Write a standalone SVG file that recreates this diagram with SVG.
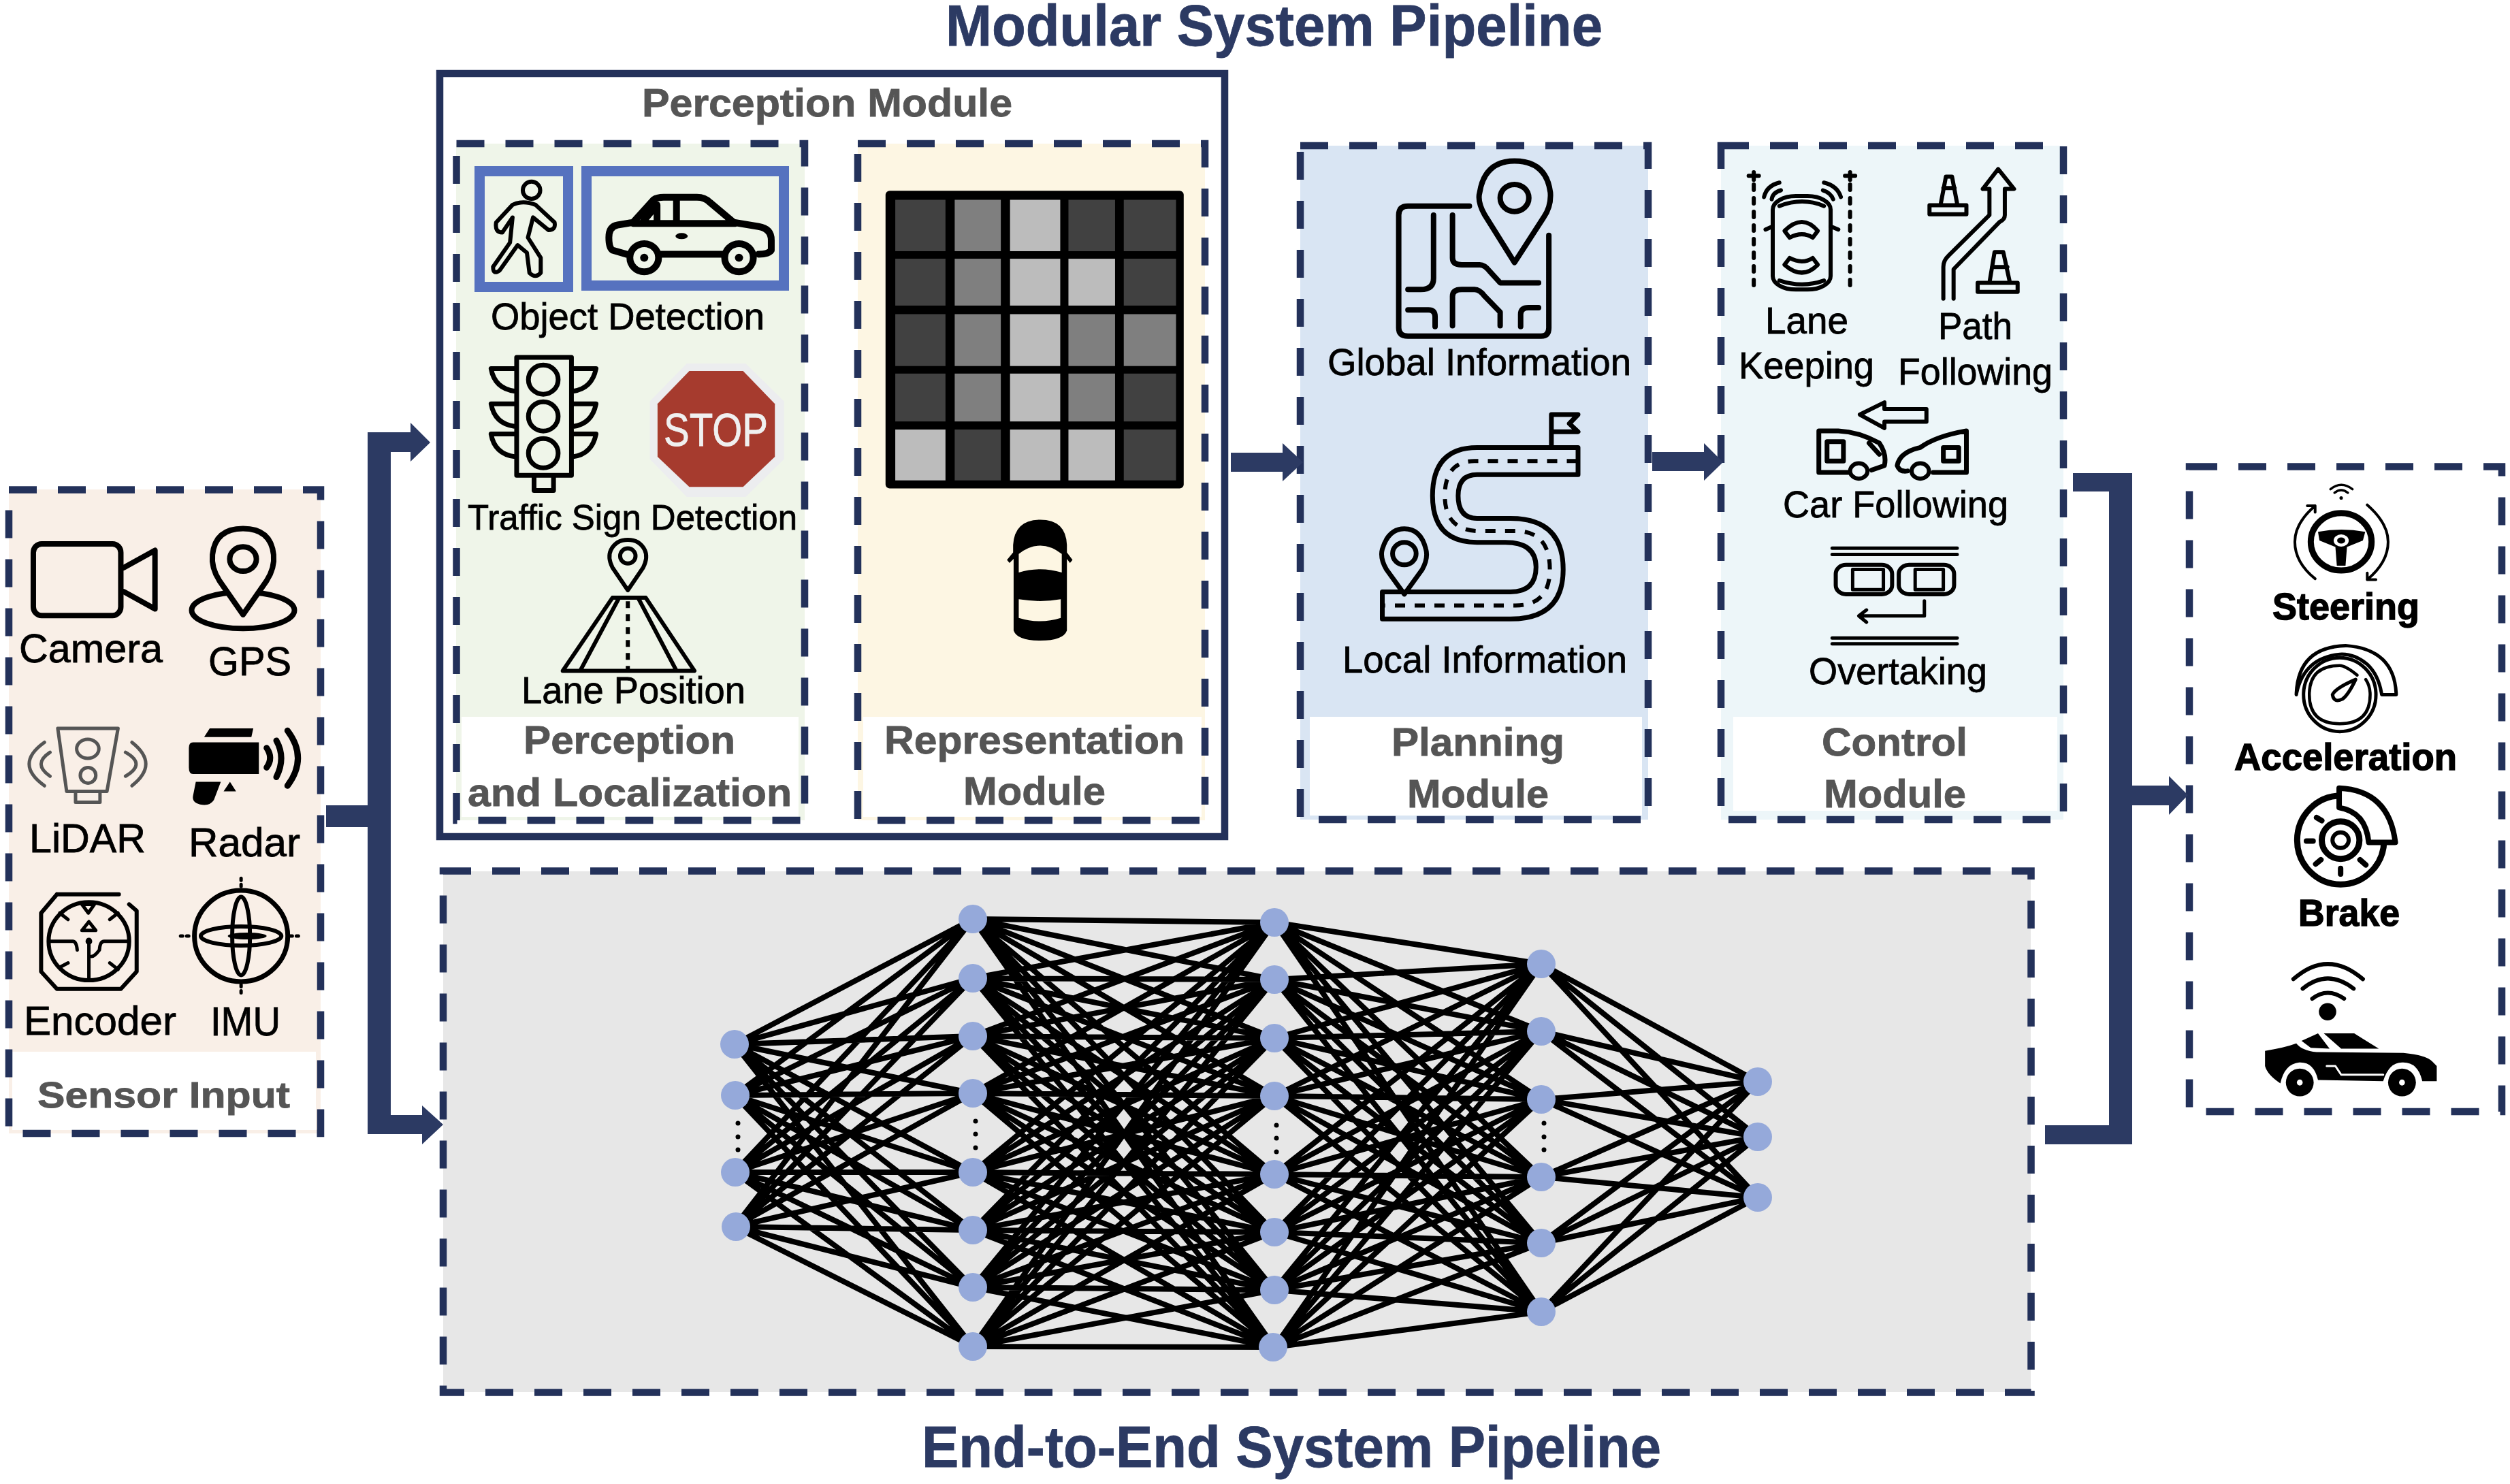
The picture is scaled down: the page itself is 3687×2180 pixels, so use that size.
<svg xmlns="http://www.w3.org/2000/svg" width="3687" height="2180" viewBox="0 0 3687 2180">
<style>
text{font-family:"Liberation Sans",Arial,sans-serif;fill:#000;stroke:#000;stroke-width:.8;font-size:56px}
.h{font-weight:700;fill:#2c3a63;stroke:#2c3a63;font-size:85px}
.l{font-weight:700;fill:#555;stroke:#555;font-size:57px}
.o{font-weight:700;font-size:55px;stroke-width:1.4}
.d{fill:none;stroke:#23315a;stroke-width:10.5;stroke-dasharray:41 31}
.i{fill:none;stroke:#000;stroke-width:8;stroke-linecap:round;stroke-linejoin:round}
.i *{vector-effect:non-scaling-stroke}
.k{fill:#000;stroke:none}
.w{fill:#fff;stroke:none}
.n{fill:#95a9da}
.c{fill:#2c3a63}
.D{fill:#414141}.M{fill:#7f7f7f}.L{fill:#bcbcbc}
.net{fill:none;stroke:#000;stroke-width:8}
</style>
<rect width="3687" height="2180" fill="#fff"/>
<text class="h" x="1389" y="67" textLength="965" lengthAdjust="spacingAndGlyphs">Modular System Pipeline</text>
<text class="h" x="1354" y="2155" textLength="1086" lengthAdjust="spacingAndGlyphs">End-to-End System Pipeline</text>

<g id="sensor-input">
<rect x="13" y="719" width="458" height="946" fill="#f9efe7"/>
<rect x="18" y="1545" width="446" height="115" fill="#fff"/>
<g class="i" transform="translate(0,700) scale(.408,.638)">
<rect x="120" y="155" width="315" height="165" rx="30" ry="20"/>
<path d="M445,210L558,170V305L445,265"/>
<ellipse cx="875" cy="308" rx="185" ry="42"/>
<path d="M875,318L790,240Q760,210 765,180Q775,120 875,120Q975,120 985,180Q990,210 960,240Z" fill="#f9efe7"/>
<ellipse cx="875" cy="190" rx="48" ry="28"/>
<path style="stroke:#555;stroke-width:5" d="M208,580H425L385,725H240ZM272,725V750H360V725"/>
<ellipse style="stroke:#555;stroke-width:5" cx="316" cy="627" rx="40" ry="22"/>
<ellipse style="stroke:#555;stroke-width:5" cx="317" cy="688" rx="28" ry="18"/>
<path style="stroke:#555;stroke-width:5" d="M180,635Q116,662 180,690M160,612Q50,662 160,712M452,635Q528,662 452,690M475,612Q575,662 475,712"/>
<path class="k" d="M735,600L755,580H912L905,600ZM680,625Q680,612 695,612H932V685H695Q680,685 680,670ZM705,703H795L770,745Q755,760 720,755Q690,750 695,735ZM805,725L828,703L850,725Z"/>
<path style="stroke-width:9" d="M960,625Q985,648 960,670M995,608Q1030,648 995,692M1035,585Q1110,648 1035,712"/>
<path style="stroke-width:6" d="M205,962H428M465,985L492,1000V1140L435,1180H205L148,1140V1005L205,962"/>
<ellipse style="stroke-width:6" cx="320" cy="1070" rx="145" ry="90"/>
<path style="stroke-width:5" d="M295,985H340L318,1005ZM295,1045L320,1025L345,1045ZM215,1005L245,1020M425,1005L395,1020M215,1130L245,1120M425,1135L395,1120M178,1070H262Q275,1070 278,1090M460,1070H375Q360,1070 358,1090Q340,1105 330,1105M320,1070V1160"/>
<ellipse class="k" cx="320" cy="1070" rx="12" ry="8"/>
<ellipse style="stroke-width:7" cx="868" cy="1058" rx="168" ry="105"/>
<ellipse style="stroke-width:6" cx="868" cy="1058" rx="32" ry="90"/>
<ellipse style="stroke-width:6" cx="868" cy="1058" rx="145" ry="22"/>
<ellipse class="k" cx="890" cy="1058" rx="70" ry="8"/>
<path style="stroke-width:5" d="M868,925V948M868,1170V1195M650,1058H690M1045,1058H1085" stroke-dasharray="3 6"/>
</g>
<text x="28" y="973" style="font-size:59px" textLength="211" lengthAdjust="spacingAndGlyphs">Camera</text>
<text x="306" y="992" style="font-size:59px" textLength="122" lengthAdjust="spacingAndGlyphs">GPS</text>
<text x="43" y="1252" style="font-size:59px" textLength="171" lengthAdjust="spacingAndGlyphs">LiDAR</text>
<text x="277" y="1258" style="font-size:59px" textLength="164" lengthAdjust="spacingAndGlyphs">Radar</text>
<text x="35" y="1520" style="font-size:59px" textLength="224" lengthAdjust="spacingAndGlyphs">Encoder</text>
<text x="309" y="1521" style="font-size:59px" textLength="103" lengthAdjust="spacingAndGlyphs">IMU</text>
<text class="l" x="55" y="1627" style="font-size:54px" textLength="371" lengthAdjust="spacingAndGlyphs">Sensor Input</text>
<rect class="d" x="13" y="719.5" width="458" height="945.5"/>
</g>

<g id="perception-module">
<rect x="646" y="108" width="1153" height="1121" fill="#fff" stroke="#23315a" stroke-width="10.5"/>
<text class="l" x="943" y="171" textLength="544" lengthAdjust="spacingAndGlyphs">Perception Module</text>
</g>

<g id="perception-localization">
<rect x="670" y="211" width="512" height="994" fill="#eff5e9"/>
<rect x="678" y="1053" width="495" height="147" fill="#fff"/>
<rect x="704.5" y="251.5" width="130" height="170" fill="none" stroke="#5672bf" stroke-width="15"/>
<rect x="861.5" y="251.5" width="290" height="168" fill="none" stroke="#5672bf" stroke-width="15"/>
<g class="i" transform="translate(640,90) scale(.7526,.74)">
<circle cx="187" cy="256" r="17" style="stroke-width:6"/>
<path style="stroke-width:6" d="M150,285Q170,275 195,285L232,320Q235,335 220,335L190,310L180,350L205,390V420Q195,432 183,420L178,380L160,365L125,415Q112,425 112,408L145,360L150,310L130,340Q115,340 118,320Z"/>
<path style="stroke-width:10" d="M372,383L345,375Q338,370 338,350Q338,328 355,325L385,320L425,275Q432,270 445,270H510Q525,270 535,280L582,320L630,328Q655,332 655,355V375Q650,383 630,383M440,383H560M385,322H585M405,318L432,285V318M470,275V322"/>
<ellipse class="k" cx="480" cy="347" rx="12" ry="6"/>
<circle cx="407" cy="390" r="28" style="stroke-width:10"/><circle cx="592" cy="390" r="28" style="stroke-width:10"/>
<circle class="k" cx="407" cy="390" r="8"/><circle class="k" cx="592" cy="390" r="8"/>
<path style="stroke-width:7" d="M158,588H265V822H158ZM192,822V852H230V822M155,610H108Q115,650 155,655M155,680H108Q115,720 155,725M155,740H108Q115,780 155,785M268,610H313Q305,650 268,655M268,680H313Q305,720 268,725M268,740H313Q305,780 268,785"/>
<circle cx="210" cy="632" r="29" style="stroke-width:7"/><circle cx="210" cy="705" r="29" style="stroke-width:7"/><circle cx="210" cy="778" r="29" style="stroke-width:7"/>
<path style="stroke:none;fill:#ecedef" d="M490,600H605L680,675V790L605,865H490L418,790V675Z"/>
<path style="stroke:none;fill:#a63b2e" d="M495,615H600L662,680V785L600,845H495L433,785V680Z"/>
<path style="stroke-width:6" d="M375,1050L345,1005Q335,985 342,970Q352,950 375,950Q398,950 408,970Q415,985 405,1005Z"/>
<circle cx="375" cy="982" r="15" style="stroke-width:6"/>
<path style="stroke-width:6" d="M248,1210L345,1065H410L505,1210ZM282,1210L358,1065M470,1210L395,1065"/>
<path style="stroke-width:6" d="M375,1072V1210" stroke-dasharray="10 9" stroke-linecap="butt"/>
</g>
<text x="975" y="655" style="font-size:68px;fill:#f0f0f0;stroke:#f0f0f0" textLength="153" lengthAdjust="spacingAndGlyphs">STOP</text>
<text x="721" y="484" textLength="402" lengthAdjust="spacingAndGlyphs">Object Detection</text>
<text x="687" y="778" style="font-size:52px" textLength="484" lengthAdjust="spacingAndGlyphs">Traffic Sign Detection</text>
<text x="766" y="1033" textLength="329" lengthAdjust="spacingAndGlyphs">Lane Position</text>
<text class="l" x="769" y="1107" textLength="311" lengthAdjust="spacingAndGlyphs">Perception</text>
<text class="l" x="687" y="1184" textLength="476" lengthAdjust="spacingAndGlyphs">and Localization</text>
<rect class="d" x="670.5" y="211" width="511.5" height="994"/>
</g>

<g id="representation-module">
<rect x="1260" y="211" width="510" height="994" fill="#fdf6e3"/>
<rect x="1268" y="1053" width="497" height="147" fill="#fff"/>
<g transform="translate(640,90) scale(.7526,.74)">
<rect x="878" y="257" width="582" height="591" rx="8" fill="#000"/>
<rect class="D" x="897" y="275" width="98" height="102"/><rect class="M" x="1013" y="275" width="90" height="102"/><rect class="L" x="1121" y="275" width="98" height="102"/><rect class="D" x="1235" y="275" width="91" height="102"/><rect class="D" x="1343" y="275" width="102" height="102"/>
<rect class="D" x="897" y="392" width="98" height="93"/><rect class="M" x="1013" y="392" width="90" height="93"/><rect class="L" x="1121" y="392" width="98" height="93"/><rect class="L" x="1235" y="392" width="91" height="93"/><rect class="D" x="1343" y="392" width="102" height="93"/>
<rect class="D" x="897" y="502" width="98" height="103"/><rect class="M" x="1013" y="502" width="90" height="103"/><rect class="L" x="1121" y="502" width="98" height="103"/><rect class="M" x="1235" y="502" width="91" height="103"/><rect class="M" x="1343" y="502" width="102" height="103"/>
<rect class="D" x="897" y="620" width="98" height="95"/><rect class="M" x="1013" y="620" width="90" height="95"/><rect class="L" x="1121" y="620" width="98" height="95"/><rect class="M" x="1235" y="620" width="91" height="95"/><rect class="D" x="1343" y="620" width="102" height="95"/>
<rect class="L" x="897" y="731" width="98" height="101"/><rect class="D" x="1013" y="731" width="90" height="101"/><rect class="L" x="1121" y="731" width="98" height="101"/><rect class="L" x="1235" y="731" width="91" height="101"/><rect class="D" x="1343" y="731" width="102" height="101"/>
<path class="k" d="M1127,960Q1130,910 1180,910Q1230,910 1232,960V975L1243,990L1238,996L1232,988V1130Q1225,1150 1180,1150Q1135,1150 1128,1130V988L1120,996L1115,990L1127,975Z"/>
<path style="fill:#fdf6e3" d="M1138,978Q1180,945 1222,978V1015Q1180,1002 1138,1015ZM1138,1068Q1180,1075 1220,1068V1105Q1180,1118 1138,1105Z"/>
</g>
<text class="l" x="1299" y="1107" textLength="441" lengthAdjust="spacingAndGlyphs">Representation</text>
<text class="l" x="1415" y="1182" textLength="209" lengthAdjust="spacingAndGlyphs">Module</text>
<rect class="d" x="1260" y="211" width="510" height="994"/>
</g>

<g id="planning-module">
<rect x="1910" y="214" width="511" height="990" fill="#d9e5f3"/>
<rect x="1924" y="1053" width="488" height="145" fill="#fff"/>
<g class="i" transform="translate(1880,190) scale(.7526,.663)">
<path d="M458,295L400,190Q385,160 390,140Q400,70 458,70Q520,70 528,140Q530,170 515,195Z"/>
<ellipse cx="458" cy="152" rx="28" ry="30"/>
<path d="M370,170H250Q232,170 232,190V440Q232,458 250,458H510Q525,458 525,440V235M300,190V330Q300,355 275,355H250M337,190V285Q337,300 355,300H390Q400,300 410,315L430,340H505M337,435V370Q337,355 355,355H380Q390,355 400,370L430,405V435M250,400H290Q303,400 303,415V437M470,437V410Q470,395 485,395H505"/>
<path style="stroke-width:7" d="M530,700V632H582L565,652L582,670H530M582,705H385Q298,705 298,812Q298,915 385,915H440Q500,915 500,970Q500,1025 450,1025H200V1085H450Q553,1085 553,975Q553,862 450,862H385Q348,862 348,812Q348,765 385,765H582Z"/>
<path style="stroke-width:6;stroke-linecap:butt;stroke-dasharray:15 14" d="M580,735H380Q322,735 322,812Q322,890 390,890H460Q527,890 527,975Q527,1055 460,1055H205"/>
<path style="stroke-width:7" d="M243,1030L208,975Q195,950 200,930Q212,885 243,885Q275,885 285,930Q290,950 278,975Z"/>
<ellipse style="stroke-width:7" cx="243" cy="940" rx="23" ry="25"/>
</g>
<text x="1950" y="551" textLength="446" lengthAdjust="spacingAndGlyphs">Global Information</text>
<text x="1972" y="988" textLength="418" lengthAdjust="spacingAndGlyphs">Local Information</text>
<text class="l" x="2044" y="1110" textLength="254" lengthAdjust="spacingAndGlyphs">Planning</text>
<text class="l" x="2067" y="1186" textLength="208" lengthAdjust="spacingAndGlyphs">Module</text>
<rect class="d" x="1910" y="214" width="511" height="990"/>
</g>

<g id="control-module">
<rect x="2528" y="214" width="503" height="990" fill="#edf6f9"/>
<rect x="2546" y="1053" width="476" height="138" fill="#fff"/>
<g class="i" transform="translate(1880,190) scale(.7526,.663)" style="stroke-width:6">
<path d="M925,122V355M1113,122V355" stroke-dasharray="8 12"/>
<path d="M925,95V112M915,103H935M1113,95V112M1103,103H1123M945,150Q950,125 975,118M960,155Q962,140 978,135M1095,150Q1088,125 1062,118M1080,155Q1075,140 1060,135"/>
<rect x="962" y="148" width="113" height="207" rx="45" ry="30"/>
<path d="M985,225Q1020,185 1050,225L1040,240Q1020,225 995,240ZM985,300Q1020,335 1050,300L1040,285Q1020,300 995,285ZM962,215L948,222M1075,215L1090,222M975,170Q1020,150 1062,170M975,335Q1020,352 1062,335"/>
<path d="M1290,165L1300,105H1312L1322,165M1295,130H1317M1268,168H1340V188H1268ZM1385,340L1395,272H1412L1425,340M1390,305H1420M1362,340H1440V360H1362ZM1295,375V305Q1295,290 1305,280L1385,190V132M1315,375V310L1405,205Q1415,200 1415,190V132M1372,132L1402,88L1433,132H1415M1385,132H1372"/>
<path d="M1262,620H1180V605L1132,632L1180,662V648H1262Z"/>
<path style="stroke-width:7" d="M1110,760H1052V668H1090Q1130,670 1170,695Q1185,720 1180,745L1155,755M1068,692H1100V735H1068ZM1150,695L1170,720M1275,760H1340V668Q1280,680 1250,705Q1210,715 1205,745Q1210,760 1225,757M1295,705H1325V735H1295Z"/>
<circle cx="1130" cy="757" r="17"/><circle cx="1250" cy="757" r="17"/>
<path style="stroke-width:5" d="M1078,928H1322M1078,942H1322M1078,1127H1322M1078,1140H1322M1258,1045V1078H1132M1145,1065L1130,1078L1145,1092"/>
<rect x="1085" y="965" width="110" height="65" rx="20"/><rect x="1118" y="975" width="60" height="45" style="stroke-width:5"/>
<rect x="1208" y="965" width="108" height="65" rx="20"/><rect x="1240" y="975" width="55" height="45" style="stroke-width:5"/>
</g>
<text x="2593" y="490" textLength="122" lengthAdjust="spacingAndGlyphs">Lane</text>
<text x="2554" y="556" textLength="199" lengthAdjust="spacingAndGlyphs">Keeping</text>
<text x="2847" y="498" textLength="109" lengthAdjust="spacingAndGlyphs">Path</text>
<text x="2788" y="565" textLength="227" lengthAdjust="spacingAndGlyphs">Following</text>
<text x="2619" y="760" textLength="331" lengthAdjust="spacingAndGlyphs">Car Following</text>
<text x="2657" y="1005" textLength="262" lengthAdjust="spacingAndGlyphs">Overtaking</text>
<text class="l" x="2676" y="1110" textLength="214" lengthAdjust="spacingAndGlyphs">Control</text>
<text class="l" x="2679" y="1186" textLength="209" lengthAdjust="spacingAndGlyphs">Module</text>
<rect class="d" x="2528" y="214" width="503" height="990"/>
</g>

<g id="vehicle-outputs">
<g class="i" transform="translate(3020,660) scale(.4254,.638)" style="stroke-width:6">
<path style="stroke-width:3.5" d="M948,92Q985,72 1024,92M962,100Q985,88 1008,100"/>
<ellipse class="k" cx="985" cy="112" rx="6" ry="4"/>
<ellipse style="stroke-width:9" cx="985" cy="213" rx="105" ry="66"/>
<path class="k" d="M905,190Q985,180 1068,190L1060,210L1005,225L1000,268H970L965,225L910,210Z"/>
<ellipse class="w" cx="985" cy="210" rx="26" ry="14"/><ellipse class="k" cx="985" cy="210" rx="14" ry="7"/>
<path style="stroke-width:4" d="M895,130Q825,170 825,213Q825,260 895,298M868,130H895V145M1075,128Q1147,170 1147,213Q1147,260 1075,300M1105,300H1075V285"/>
<ellipse style="stroke-width:5" cx="980" cy="565" rx="125" ry="85"/>
<path style="stroke-width:4.5" d="M1040,520Q1000,498 980,498Q875,498 875,565Q875,632 980,632Q1085,632 1085,565Q1085,545 1070,530"/>
<path fill="#fff" style="stroke-width:5" d="M830,565Q835,455 1000,452Q1170,460 1175,565H1125Q1115,520 1075,495Q1030,470 980,472Q855,480 830,565Z"/>
<path style="stroke-width:5" d="M955,565Q965,550 1035,530Q1010,565 990,575Q960,585 955,565Z"/>
<ellipse style="stroke-width:9" cx="983" cy="900" rx="150" ry="102"/>
<ellipse style="stroke-width:9" cx="983" cy="900" rx="65" ry="43"/>
<ellipse style="stroke-width:6" cx="983" cy="900" rx="28" ry="18"/>
<path fill="#fff" style="stroke-width:8" d="M978,825V780Q1150,785 1172,905H1080Q1070,835 978,825Z"/>
<path style="stroke-width:8" d="M900,848L918,855M865,902H888M897,955L915,945M983,965V978M1050,945L1070,957"/>
<path style="stroke-width:6" d="M820,1220Q938,1150 1060,1220M852,1242Q938,1195 1028,1242M885,1265Q938,1238 995,1265"/>
<ellipse class="k" cx="938" cy="1295" rx="30" ry="20"/>
<path class="k" d="M722,1385Q790,1378 830,1368Q850,1385 900,1388L1200,1390Q1280,1395 1300,1410L1315,1420V1455H1265Q1250,1410 1195,1412Q1150,1412 1130,1455L905,1452Q890,1410 840,1412Q790,1415 775,1460Q730,1440 722,1420ZM848,1362L905,1345L945,1380L880,1378ZM925,1345H1030L1115,1380H985Z"/>
<ellipse class="k" cx="842" cy="1458" rx="48" ry="32"/><ellipse class="k" cx="1195" cy="1458" rx="48" ry="32"/>
<ellipse class="w" cx="842" cy="1458" rx="10" ry="7"/><ellipse class="w" cx="1195" cy="1458" rx="10" ry="7"/>
<path style="stroke:#fff;stroke-width:3" d="M935,1420H965L985,1440H1130"/>
</g>
<text class="o" x="3338" y="910" textLength="216" lengthAdjust="spacingAndGlyphs">Steering</text>
<text class="o" x="3282" y="1131" textLength="327" lengthAdjust="spacingAndGlyphs">Acceleration</text>
<text class="o" x="3376" y="1360" textLength="149" lengthAdjust="spacingAndGlyphs">Brake</text>
<rect class="d" x="3216" y="685.5" width="459" height="947.5"/>
</g>

<g id="end-to-end-network">
<rect x="651" y="1280" width="2332" height="765" fill="#e7e7e7"/>
<rect class="d" x="651" y="1279.5" width="2332.5" height="766"/>
<path class="net" d="M1079 1534L1429 1350M1079 1534L1429 1437M1079 1534L1429 1522M1079 1534L1429 1606M1079 1534L1429 1722M1079 1534L1429 1807M1079 1534L1429 1891M1079 1534L1429 1978M1079 1609L1429 1350M1079 1609L1429 1437M1079 1609L1429 1522M1079 1609L1429 1606M1079 1609L1429 1722M1079 1609L1429 1807M1079 1609L1429 1891M1079 1609L1429 1978M1079 1722L1429 1350M1079 1722L1429 1437M1079 1722L1429 1522M1079 1722L1429 1606M1079 1722L1429 1722M1079 1722L1429 1807M1079 1722L1429 1891M1079 1722L1429 1978M1079 1802L1429 1350M1079 1802L1429 1437M1079 1802L1429 1522M1079 1802L1429 1606M1079 1802L1429 1722M1079 1802L1429 1807M1079 1802L1429 1891M1079 1802L1429 1978"/>
<path class="net" d="M1429 1350L1872 1355M1429 1350L1872 1439M1429 1350L1872 1525M1429 1350L1872 1610M1429 1350L1872 1725M1429 1350L1872 1810M1429 1350L1872 1895M1429 1350L1872 1979M1429 1437L1872 1355M1429 1437L1872 1439M1429 1437L1872 1525M1429 1437L1872 1610M1429 1437L1872 1725M1429 1437L1872 1810M1429 1437L1872 1895M1429 1437L1872 1979M1429 1522L1872 1355M1429 1522L1872 1439M1429 1522L1872 1525M1429 1522L1872 1610M1429 1522L1872 1725M1429 1522L1872 1810M1429 1522L1872 1895M1429 1522L1872 1979M1429 1606L1872 1355M1429 1606L1872 1439M1429 1606L1872 1525M1429 1606L1872 1610M1429 1606L1872 1725M1429 1606L1872 1810M1429 1606L1872 1895M1429 1606L1872 1979M1429 1722L1872 1355M1429 1722L1872 1439M1429 1722L1872 1525M1429 1722L1872 1610M1429 1722L1872 1725M1429 1722L1872 1810M1429 1722L1872 1895M1429 1722L1872 1979M1429 1807L1872 1355M1429 1807L1872 1439M1429 1807L1872 1525M1429 1807L1872 1610M1429 1807L1872 1725M1429 1807L1872 1810M1429 1807L1872 1895M1429 1807L1872 1979M1429 1891L1872 1355M1429 1891L1872 1439M1429 1891L1872 1525M1429 1891L1872 1610M1429 1891L1872 1725M1429 1891L1872 1810M1429 1891L1872 1895M1429 1891L1872 1979M1429 1978L1872 1355M1429 1978L1872 1439M1429 1978L1872 1525M1429 1978L1872 1610M1429 1978L1872 1725M1429 1978L1872 1810M1429 1978L1872 1895M1429 1978L1872 1979"/>
<path class="net" d="M1872 1355L2264 1416M1872 1355L2264 1515M1872 1355L2264 1615M1872 1355L2264 1729M1872 1355L2264 1826M1872 1355L2264 1927M1872 1439L2264 1416M1872 1439L2264 1515M1872 1439L2264 1615M1872 1439L2264 1729M1872 1439L2264 1826M1872 1439L2264 1927M1872 1525L2264 1416M1872 1525L2264 1515M1872 1525L2264 1615M1872 1525L2264 1729M1872 1525L2264 1826M1872 1525L2264 1927M1872 1610L2264 1416M1872 1610L2264 1515M1872 1610L2264 1615M1872 1610L2264 1729M1872 1610L2264 1826M1872 1610L2264 1927M1872 1725L2264 1416M1872 1725L2264 1515M1872 1725L2264 1615M1872 1725L2264 1729M1872 1725L2264 1826M1872 1725L2264 1927M1872 1810L2264 1416M1872 1810L2264 1515M1872 1810L2264 1615M1872 1810L2264 1729M1872 1810L2264 1826M1872 1810L2264 1927M1872 1895L2264 1416M1872 1895L2264 1515M1872 1895L2264 1615M1872 1895L2264 1729M1872 1895L2264 1826M1872 1895L2264 1927M1872 1979L2264 1416M1872 1979L2264 1515M1872 1979L2264 1615M1872 1979L2264 1729M1872 1979L2264 1826M1872 1979L2264 1927"/>
<path class="net" d="M2264 1416L2582 1589M2264 1416L2582 1670M2264 1416L2582 1759M2264 1515L2582 1589M2264 1515L2582 1670M2264 1515L2582 1759M2264 1615L2582 1589M2264 1615L2582 1670M2264 1615L2582 1759M2264 1729L2582 1589M2264 1729L2582 1670M2264 1729L2582 1759M2264 1826L2582 1589M2264 1826L2582 1670M2264 1826L2582 1759M2264 1927L2582 1589M2264 1927L2582 1670M2264 1927L2582 1759"/>
<g class="n">
<circle cx="1079" cy="1534" r="21"/><circle cx="1080" cy="1609" r="21"/><circle cx="1080" cy="1722" r="21"/><circle cx="1081" cy="1802" r="21"/>
<circle cx="1429" cy="1350" r="21"/><circle cx="1429" cy="1437" r="21"/><circle cx="1429" cy="1522" r="21"/><circle cx="1429" cy="1606" r="21"/><circle cx="1429" cy="1722" r="21"/><circle cx="1429" cy="1807" r="21"/><circle cx="1429" cy="1891" r="21"/><circle cx="1429" cy="1978" r="21"/>
<circle cx="1872" cy="1355" r="21"/><circle cx="1872" cy="1439" r="21"/><circle cx="1872" cy="1525" r="21"/><circle cx="1872" cy="1610" r="21"/><circle cx="1872" cy="1725" r="21"/><circle cx="1872" cy="1810" r="21"/><circle cx="1872" cy="1895" r="21"/><circle cx="1870" cy="1979" r="21"/>
<circle cx="2264" cy="1416" r="21"/><circle cx="2264" cy="1515" r="21"/><circle cx="2264" cy="1615" r="21"/><circle cx="2264" cy="1729" r="21"/><circle cx="2264" cy="1826" r="21"/><circle cx="2264" cy="1927" r="21"/>
<circle cx="2582" cy="1589" r="21"/><circle cx="2582" cy="1670" r="21"/><circle cx="2582" cy="1759" r="21"/>
</g>
<g fill="#000">
<circle cx="1084" cy="1650" r="3.5"/><circle cx="1084" cy="1670" r="3.5"/><circle cx="1084" cy="1689" r="3.5"/>
<circle cx="1433" cy="1647" r="3.5"/><circle cx="1433" cy="1666" r="3.5"/><circle cx="1433" cy="1686" r="3.5"/>
<circle cx="1875" cy="1653" r="3.5"/><circle cx="1875" cy="1672" r="3.5"/><circle cx="1875" cy="1692" r="3.5"/>
<circle cx="2268" cy="1650" r="3.5"/><circle cx="2268" cy="1670" r="3.5"/><circle cx="2268" cy="1689" r="3.5"/>
</g>
</g>

<g id="connectors" class="c">
<path d="M479,1183H540V635H603V621L632,650L603,678V664H574V1638H620V1624L651,1652L620,1681V1666H540V1215H479Z"/>
<path d="M1808,665H1884V651L1914,679L1884,707V693H1808Z"/>
<path d="M2427,664H2503V651L2531,679L2503,706V692H2427Z"/>
<path d="M3045,695H3132V1154H3186V1140L3214,1168L3186,1197V1183H3132V1681H3004V1653H3098V722H3045Z"/>
</g>
</svg>
